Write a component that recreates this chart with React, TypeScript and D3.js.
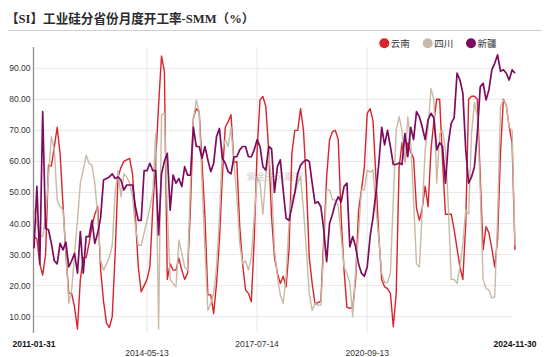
import React from 'react';
import * as d3 from 'd3';

// 云南
const yunnan = [
  35.8, 35, 27, 23.4, 30, 58.8, 58.5, 64.7, 71, 62.6,
  46, 30, 17.5, 17.5, 13, 6, 22, 29, 29, 33.6,
  39, 43, 45.4, 25, 15, 8, 6.5, 10, 30, 55,
  58, 60, 60.5, 61, 56, 42, 26, 18, 20, 22,
  26, 45, 60, 78, 94, 89, 22, 27, 25, 25,
  28.8, 25, 22, 24, 45.6, 74, 77, 76, 59.5, 42,
  17, 17, 11, 20.7, 34.7, 55, 71, 72.8, 75, 59.5,
  60, 39, 27, 18.6, 17.5, 14.8, 34.7, 63.7, 79.8, 80.9,
  77.7, 63.7, 42, 29, 24, 20.7, 23, 19.6, 31.4, 62.6,
  70, 70, 77, 70, 53, 29, 20.7, 14, 14.5, 15,
  35, 55, 67, 69.6, 70, 67, 42, 25, 13, 12.7,
  13, 22, 44, 50.8, 58, 75.5, 77, 73, 55, 36,
  22, 19.6, 19, 17.5, 6.8, 17.5, 58, 66, 60, 66,
  63, 61, 45, 41, 45, 52, 45.4, 63.7, 73, 80,
  80, 60, 43, 43, 43, 38, 32, 26, 22, 40,
  80, 81, 81, 80, 55, 31.5, 39, 37, 32, 26,
  35, 63, 80, 78, 71, 66, 31.5,
];

// 四川
const sichuan = [
  45, 40, 36, 35.8, 42, 55, 68, 63.7, 47.6, 45.4,
  44.4, 31.4, 14.3, 18.6, 30.4, 41, 53, 57.2, 62, 59.4,
  58.8, 53, 42, 28, 25, 27, 29, 33, 50, 57,
  48.6, 56, 55, 53, 48.7, 39, 33, 33, 37, 41,
  45, 50, 69, 6, 75, 75.5, 45, 22, 20.7, 19.6,
  34.7, 30.4, 26, 25, 53, 73.4, 79.8, 76, 53, 31.5,
  12, 14.3, 17.5, 26, 42, 63.7, 67, 64.8, 71, 59.5,
  48.6, 33.6, 27, 28, 25, 29, 42, 55, 53, 43,
  55, 62.6, 53, 31.5, 23, 17, 14.3, 23, 40, 48.6,
  49.7, 53, 55, 44.4, 31.5, 17.5, 12, 14.3, 13.7, 13.7,
  31.5, 50.8, 50.8, 47.6, 47.6, 45.4, 35.8, 26, 24, 20.7,
  10, 25, 36.8, 50.8, 50.8, 57.2, 56.5, 57.2, 45, 35,
  24, 21, 21, 24, 47.6, 70, 74.4, 70, 59.5, 74.4,
  66, 47.6, 27, 26, 44.4, 63.7, 71, 83.5, 80, 53,
  69, 70, 63.7, 45.4, 22, 22, 20.7, 26, 33.6, 44.4,
  43, 69, 79, 74.4, 50.8, 22, 19, 18.6, 16, 16.4,
  42, 77.7, 79.8, 78, 71, 70, 33,
];

// 新疆
const xinjiang = [
  32, 52, 27, 76, 38.4, 38, 33.6, 28, 27, 33.6,
  31.5, 34, 26, 28, 30.4, 24, 37.4, 24, 35.8, 35.8,
  41, 33.6, 37, 42, 54, 54.5, 55, 56, 54.5, 55,
  54, 50.8, 52.4, 52.4, 52.4, 45.4, 41, 41, 57, 57,
  59.4, 57, 57, 36.3, 56, 60, 62.6, 44.3, 55.6, 53,
  54.5, 51.9, 58.3, 55.6, 55.6, 71, 64.8, 64.8, 61, 64.8,
  60.5, 56.7, 59.4, 68, 70.6, 61, 59.4, 56.7, 56, 61.5,
  61.5, 63.7, 64.8, 64.8, 61.5, 61.5, 63.7, 67, 64.8, 58.3,
  57.2, 64.8, 64, 50, 58.3, 60.5, 50.8, 41.7, 41, 45.4,
  49.8, 56, 58.8, 59.9, 60.5, 60, 53, 46.5, 47, 45.4,
  38, 27.7, 40, 43, 46.5, 48.6, 47, 51.9, 53, 32.5,
  35.8, 32.5, 27, 24, 23, 26, 35.8, 42, 49.8, 59.4,
  71, 65.3, 70, 64.8, 59, 59, 59.5, 59, 69, 61.5,
  71, 67, 76, 74.4, 71, 67, 73.4, 75.5, 74, 63.7,
  66, 64.8, 53, 66, 72.3, 74, 88.4, 86.2, 82, 63.7,
  53, 55, 58.3, 69, 84, 85.2, 79.8, 83, 89.5, 91.6,
  94.3, 89, 89.5, 88.4, 86.2, 89.5, 88.4,
];

const seriesNames = ['云南', '四川', '新疆'];
const seriesData = [yunnan, sichuan, xinjiang];
const seriesColors = ['#d8242b', '#c9baa5', '#7e0c5e'];

const xTickLabels = ['2011-01-31', '2014-05-13', '2017-07-14', '2020-09-13', '2024-11-30'];
const xTickIndex = [0, 39, 77, 115, 166];
const yTicks = [10, 20, 30, 40, 50, 60, 70, 80, 90];

const title = '【SI】工业硅分省份月度开工率-SMM（%）';
const watermark = '紫金天风期货';

export default function App() {
  const W = 550;
  const H = 357;
  const left = 34;
  const right = 515;
  const top = 47;
  const bottom = 333;
  const n = yunnan.length;

  const x = d3.scaleLinear().domain([0, n - 1]).range([left, right]);
  const y = d3.scaleLinear().domain([0, 100]).range([347.7, 37.2]);
  const line = d3
    .line<number>()
    .x((_, i) => x(i))
    .y((d) => y(d));

  const sans = "'Liberation Sans', Arial, 'Noto Sans CJK SC', sans-serif";
  const cjk = "'Noto Sans CJK SC', 'Liberation Sans', sans-serif";

  const legendX = [384.3, 427.7, 471];

  return (
    <svg
      width={W}
      height={H}
      style={{ position: 'absolute', left: 0, top: 0, background: '#fff' }}
    >
      <rect x={0} y={0} width={W} height={H} fill="#fff" />
      <text
        x={6}
        y={23}
        fontSize={12.6}
        fontWeight="bold"
        fill="#2b2b2b"
        fontFamily="'Liberation Serif', 'Noto Sans CJK SC', serif"
      >
        {title}
      </text>
      <line x1={8} x2={542} y1={30.5} y2={30.5} stroke="#cfcfcf" strokeWidth={1} />

      {seriesNames.map((name, i) => (
        <g key={name}>
          <circle cx={legendX[i]} cy={43.3} r={5} fill={seriesColors[i]} />
          <text
            x={legendX[i] + 6.5}
            y={43.3}
            dominantBaseline="central"
            fontSize={9.5}
            fill="#333"
            fontFamily={cjk}
          >
            {name}
          </text>
        </g>
      ))}

      {yTicks.map((t) => (
        <g key={t}>
          <line x1={left} x2={513} y1={y(t)} y2={y(t)} stroke="#e8e8e8" strokeWidth={1} />
          <text
            x={30.5}
            y={y(t)}
            textAnchor="end"
            dominantBaseline="central"
            fontSize={8.5}
            fill="#333"
            fontFamily={sans}
          >
            {t.toFixed(2)}
          </text>
        </g>
      ))}

      {xTickIndex.slice(1, -1).map((ti) => (
        <line key={ti} x1={x(ti)} x2={x(ti)} y1={top} y2={bottom} stroke="#e6e6e6" strokeWidth={1} />
      ))}

      <text
        x={275}
        y={176}
        textAnchor="middle"
        dominantBaseline="central"
        fontSize={9.5}
        fill="#cfcfcf"
        fontFamily={cjk}
      >
        {watermark}
      </text>

      <line x1={33.5} x2={33.5} y1={top} y2={bottom} stroke="#8f8f8f" strokeWidth={1.3} />

      {seriesData.map((d, i) => (
        <path
          key={seriesNames[i]}
          d={line(d) || ''}
          fill="none"
          stroke={seriesColors[i]}
          strokeWidth={i === 2 ? 1.7 : 1.4}
          strokeLinejoin="round"
        />
      ))}

      {xTickIndex.map((ti, k) => {
        const edge = k === 0 || k === xTickIndex.length - 1;
        return (
          <text
            key={ti}
            x={x(ti)}
            y={k % 2 === 0 ? 346.5 : 355.5}
            textAnchor="middle"
            fontSize={8.5}
            fontWeight={edge ? 'bold' : 'normal'}
            fill={edge ? '#111' : '#333'}
            fontFamily={sans}
          >
            {xTickLabels[k]}
          </text>
        );
      })}
    </svg>
  );
}
